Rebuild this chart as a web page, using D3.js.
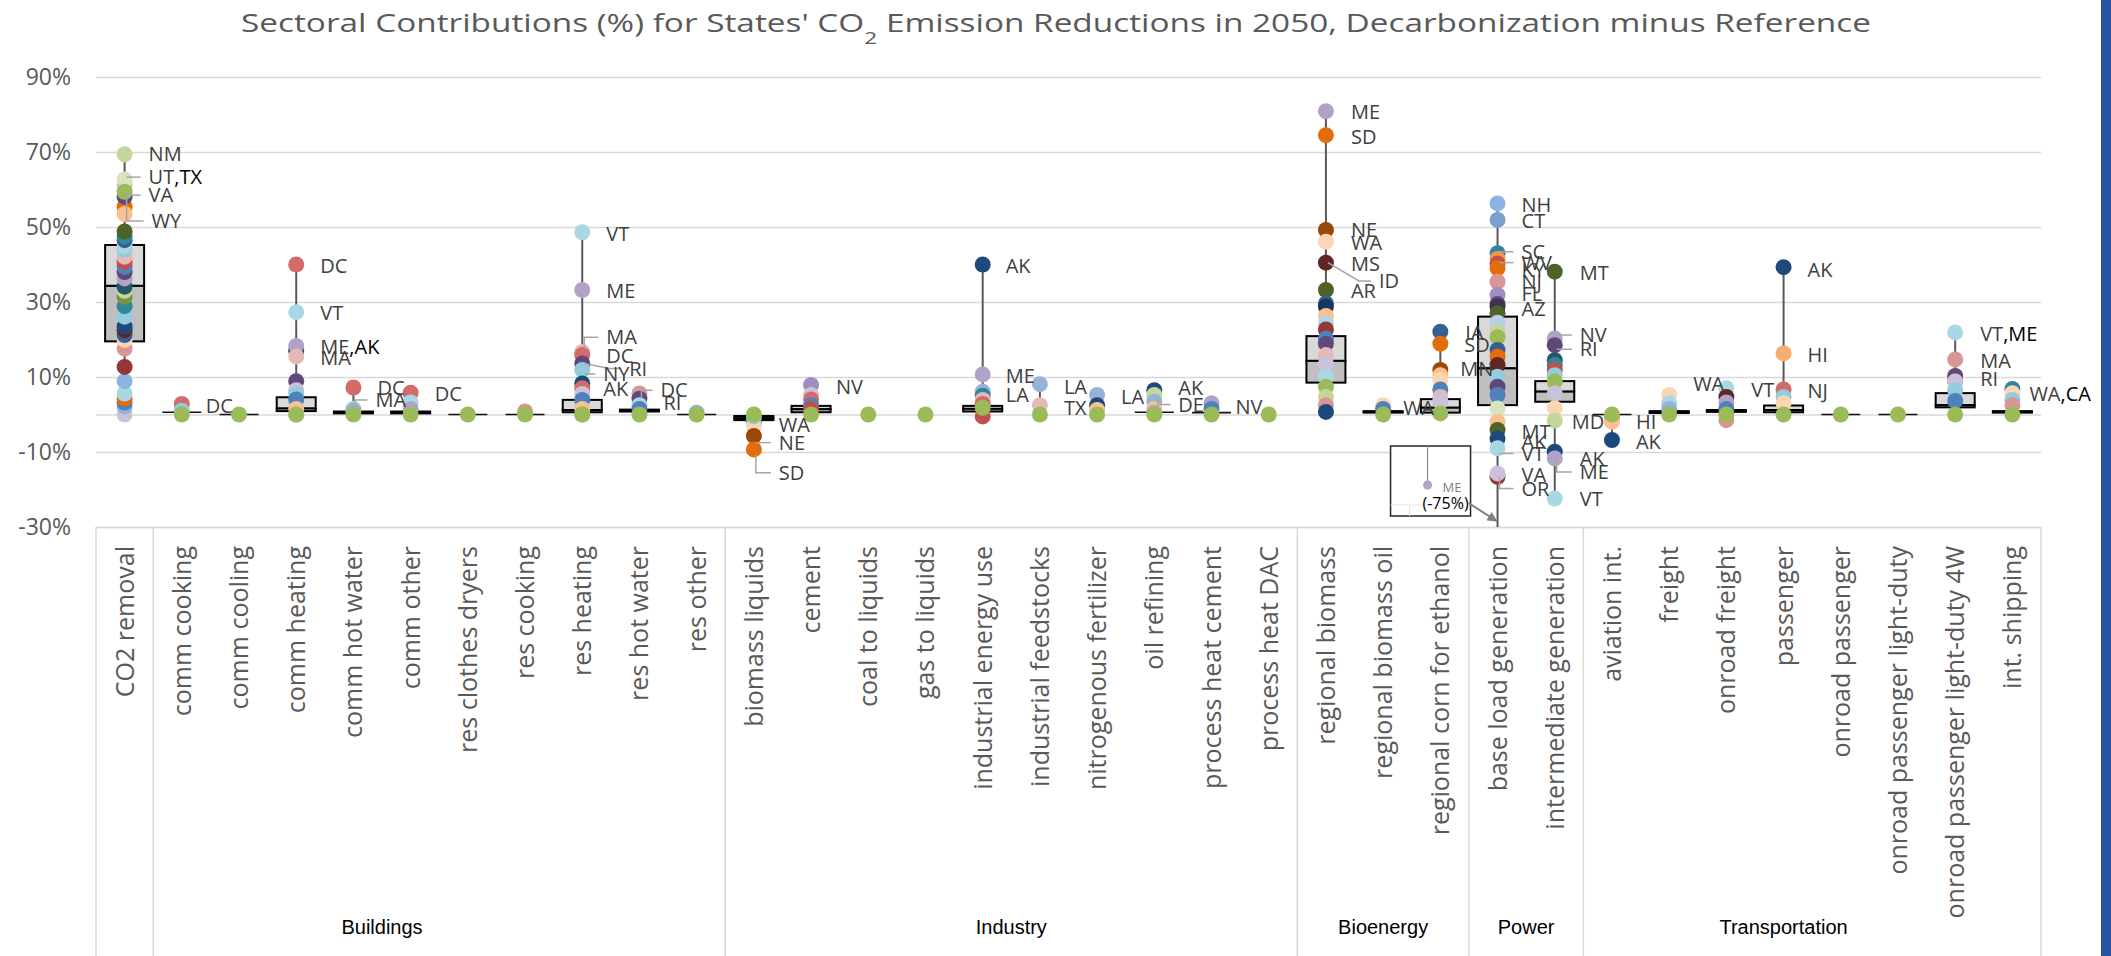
<!DOCTYPE html>
<html><head><meta charset="utf-8">
<script src="https://cdn.jsdelivr.net/npm/d3@7/dist/d3.min.js"></script>
<style>body{margin:0;background:#fff;overflow:hidden}svg{display:block}</style>
</head><body>
<svg id="chart" width="2111" height="956"></svg>
<script>
// ---------------- DATA ----------------
const categories = ["CO2 removal","comm cooking","comm cooling","comm heating","comm hot water","comm other","res clothes dryers","res cooking","res heating","res hot water","res other","biomass liquids","cement","coal to liquids","gas to liquids","industrial energy use","industrial feedstocks","nitrogenous fertilizer","oil refining","process heat cement","process heat DAC","regional biomass","regional biomass oil","regional corn for ethanol","base load generation","intermediate generation","aviation int.","freight","onroad freight","passenger","onroad passenger","onroad passenger light-duty","onroad passenger light-duty 4W","int. shipping"];

const groupNames = ["", "Buildings", "Industry", "Bioenergy", "Power", "Transportation"];
const groupStart = [0, 1, 11, 21, 24, 26];
const groupEnd = [1, 11, 21, 24, 26, 34];
const groupLabelAt = [0.5, 5.0, 16.0, 22.5, 25.0, 29.5];

const yTicks = [90, 70, 50, 30, 10, -10, -30];

// box statistics (%), null = no box
const boxQ1     = [19.5,0.6,0,0.9,0.3,0.3,0,0,0.6,0.8,0,-1.5,0.6,null,null,0.8,null,null,0.6,0.5,null,8.5,0.5,0.5,2.5,3.4,0,0.4,0.7,0.6,0,0,1.9,0.5];
const boxMedian = [34.3,0.6,0,1.6,0.5,0.5,0,0,1.2,1.0,0,-1.0,1.4,null,null,1.5,null,null,0.6,0.5,null,14.3,0.7,1.8,12.3,6.1,0,0.6,0.9,1.2,0,0,2.5,0.7];
const boxQ3     = [45.2,0.6,0,4.6,0.8,0.8,0,0,3.9,1.3,0,-0.4,2.3,null,null,2.3,null,null,0.6,0.5,null,20.9,0.9,4.1,26.1,8.9,0,0.9,1.2,2.4,0,0,5.7,0.9];

// state point colours
const palette = {
  lav:"#b3a2c7", lav2:"#ccc1da", purp:"#8064a2", mpur:"#a08ec2", dpur:"#5f497a", dpur2:"#403152",
  navy:"#1f497d", dnavy:"#17375e", blue:"#4f81bd", blue2:"#376092", lblue:"#95b3d7", sky:"#8eb4e3", sky2:"#7ba0cd", pale:"#b9cde5",
  teal:"#31859c", dteal:"#215968", lteal:"#93cddd", lteal2:"#a9d7e4",
  red:"#c0504d", salm:"#d26b69", dred:"#953735", mar:"#632523", pink:"#d99694", pink2:"#e6b9b8",
  org:"#e46c0a", lorg:"#f79646", horg:"#f9ad6e", peach:"#fac090", peach2:"#fcd5b5", brown:"#984807",
  grn:"#9bbb59", dgrn:"#77933c", olive:"#4f6228", lgrn:"#c3d69b", lgrn2:"#d7e4bd"
};

// per category: state values (%) and their colours
const pointValues = [
  [0,2.1,3.2,4.3,5.6,8.9,12.7,17.6,19.9,21.2,22.5,23.4,26.1,28.9,31.4,33.0,34.1,36.3,38.0,39.4,40.7,42.1,43.9,45.0,46.5,47.5,48.8,55.4,53.5,58.1,61.2,62.7,59.4,69.4],
  [2.8,1.0,0],
  [0],
  [40,27.3,17.0,18.3,15.5,8.9,6.5,5.5,4.0,1.5,0,0],
  [7.2,1.5,1.0,0],
  [5.8,3.2,1.5,0],
  [0],
  [0.8,0],
  [48.6,33.2,16.7,15.9,13.6,11.9,8.3,7.0,5.5,3.9,1.5,0,0],
  [5.6,4.2,2.5,1.5,0],
  [0.5,0],
  [-1.9,-3.0,-5.7,-9.3,-0.5,0],
  [7.9,5.2,4.0,2.5,1.5,0],
  [0],
  [0],
  [40.0,10.7,6.1,5.0,3.9,2.8,-0.5,1.8],
  [8.1,2.5,0],
  [5.2,2.5,1.2,0],
  [6.5,5.2,3.4,1.5,0.5,0],
  [3.0,1.5,0],
  [0],
  [80.9,74.5,49.2,46.1,40.5,33.2,29.6,28.8,26.3,24.3,22.7,20.3,18.9,15.9,13.6,10.1,7.4,4.7,2.5,0.7],
  [2.5,1.5,0],
  [22.1,18.9,11.9,10.5,9.2,6.7,4.7,3.4,0.3],
  [56.3,51.9,43.0,41.5,40.3,39.0,35.4,31.9,29.5,28.8,27.0,24.5,22.0,20.6,17.2,15.4,13.2,10.1,7.4,5.2,1.6,-1.9,-4.1,-6.4,-9.0,-16.6,-15.7,-75],
  [38.1,20.3,18.5,14.5,13.2,11.9,10.5,8.8,5.7,1.7,-1.6,-9.9,-11.7,-22.4],
  [-1.0,-1.9,-6.8,0],
  [5.2,3.0,1.5,0],
  [7.0,4.7,3.2,1.5,-1.5,0],
  [39.3,16.3,6.7,4.7,3.0,0],
  [0],
  [0],
  [21.9,14.7,10.3,8.9,8.8,6.5,3.6,0],
  [6.8,5.7,3.9,2.5,0]
];
const pointColors = [
  ["lav2","lblue","blue","org","lteal2","sky","dred","pink","peach2","blue2","mar","navy","lteal","teal","dgrn","lgrn","dteal","lav","dpur","blue","red","pink2","lteal","lteal2","blue2","teal","olive","org","peach","dpur","lav2","lgrn2","grn","lgrn"],
  ["salm","lteal","grn"],
  ["grn"],
  ["salm","lteal2","navy","lav","pink2","dpur","lav2","lteal","blue","peach","lav2","grn"],
  ["salm","lteal2","lblue","grn"],
  ["salm","lteal2","lav","grn"],
  ["grn"],
  ["pink","grn"],
  ["lteal2","lav","pink2","salm","dpur","lteal","navy","salm","lav2","blue","peach","pink","grn"],
  ["pink","dpur","lteal2","blue","grn"],
  ["lblue","grn"],
  ["blue","peach2","brown","org","lteal","grn"],
  ["mpur","lav2","salm","blue","red","grn"],
  ["grn"],
  ["grn"],
  ["navy","lav","lblue","teal","pink2","salm","red","grn"],
  ["lblue","pink2","grn"],
  ["lblue","navy","peach","grn"],
  ["navy","lgrn","lblue","peach","lav","grn"],
  ["lav","blue","grn"],
  ["grn"],
  ["lav","org","brown","peach2","mar","olive","blue2","dnavy","peach","lteal2","dred","blue","dpur","pink2","lav2","lteal2","grn","lgrn","pink","navy"],
  ["peach2","blue","grn"],
  ["blue2","org","brown","peach","peach2","blue","pink2","lav2","grn"],
  ["sky","sky2","teal","lorg","red","org","pink","mpur","dpur","dpur2","olive","pale","lgrn","grn","blue2","org","mar","lteal","dpur","blue","lgrn2","peach","olive","navy","lteal2","dred","lav2","lav"],
  ["olive","lav","dpur","dteal","teal","red","lteal","grn","lav2","peach2","lgrn","navy","lav","lteal2"],
  ["pink","peach","navy","grn"],
  ["peach2","lteal2","lblue","grn"],
  ["lteal2","mar","lav","blue","pink","grn"],
  ["navy","horg","salm","lteal","peach2","grn"],
  ["grn"],
  ["grn"],
  ["lteal2","pink","dpur","red","lav2","lteal","blue","grn"],
  ["teal","peach2","lteal","pink","grn"]
];

// data labels: [category index, state, extra state (black), label value %, point value % for leader, leader kind]
const pointLabels = [
 [0,"NM","",69.4,null,""],[0,"UT",",TX",63.3,62.7,"h"],[0,"VA","",58.5,59.4,"h"],[0,"WY","",51.6,59.4,"elbow"],
 [1,"DC","",2.4,null,""],
 [3,"DC","",39.7,null,""],[3,"VT","",27.1,null,""],[3,"ME",",AK",18.1,null,""],[3,"MA","",15.0,null,""],
 [4,"DC","",7.1,null,""],[4,"MA","",3.9,1.3,"elbow"],
 [5,"DC","",5.6,null,""],
 [8,"VT","",48.3,null,""],[8,"ME","",33.0,null,""],[8,"MA","",20.6,17.8,"elbow"],[8,"DC","",15.7,null,""],[8,"RI","",12.3,13.6,"diag"],[8,"NY","",10.8,11.9,"h"],[8,"AK","",6.9,null,""],
 [9,"DC","",6.5,4.5,"elbow"],[9,"RI","",3.2,null,""],
 [11,"WA","",-2.8,null,""],[11,"NE","",-7.5,-5.7,"h"],[11,"SD","",-15.5,-10.8,"elbow"],
 [12,"NV","",7.4,null,""],
 [15,"AK","",39.6,null,""],[15,"ME","",10.3,null,""],[15,"LA","",5.2,null,""],
 [16,"LA","",7.4,null,""],[16,"TX","",1.9,null,""],
 [17,"LA","",4.7,null,""],
 [18,"AK","",7.0,null,""],[18,"DE","",2.7,4.5,"diag"],
 [19,"NV","",2.1,null,""],
 [21,"ME","",80.8,null,""],[21,"SD","",74.1,null,""],[21,"NE","",49.2,null,""],[21,"WA","",45.8,null,""],[21,"MS","",40.3,null,""],[21,"ID","",35.6,40.5,"diag"],[21,"AR","",33.0,null,""],
 [22,"WA","",1.8,null,""],
 [23,"IA","",21.9,null,""],[23,"SD","",18.5,null,""],[23,"MN","",12.3,null,""],
 [24,"NH","",55.9,null,""],[24,"CT","",51.7,null,""],[24,"SC","",43.4,43.0,"h"],[24,"WV","",40.5,40.3,"h"],[24,"KY","",38.5,null,""],[24,"NJ","",35.3,null,""],[24,"FL","",32.3,null,""],[24,"AZ","",28.3,null,""],
 [24,"MT","",-4.6,null,""],[24,"AK","",-7.3,null,""],[24,"VT","",-10.4,-9.0,"h"],[24,"VA","",-16.1,null,""],[24,"OR","",-19.7,-16.6,"elbow"],
 [25,"MT","",37.8,null,""],[25,"NV","",21.2,20.3,"h"],[25,"RI","",17.4,18.5,"h"],[25,"MD","",-1.9,null,""],[25,"AK","",-11.7,null,""],[25,"ME","",-15.3,-11.7,"elbow"],[25,"VT","",-22.6,null,""],
 [26,"HI","",-1.9,null,""],[26,"AK","",-7.2,null,""],
 [27,"WA","",8.1,null,""],
 [28,"VT","",6.5,null,""],
 [29,"AK","",38.7,null,""],[29,"HI","",15.9,null,""],[29,"NJ","",6.3,null,""],
 [32,"VT",",ME",21.5,null,""],[32,"MA","",14.3,null,""],[32,"RI","",9.4,null,""],
 [33,"WA",",CA",5.5,null,""]
];
// off-chart value shown in the callout
const offChart = {category: 24, state: "ME", value: -75};

// ---------------- LAYOUT (not data) ----------------
const labelDx = [24,24,24,27, 24, 24,24,24,24, 24,22, 24, 24,24,24,24,47,21,21, 21,24, 25,25,25, 25, 23,23,23, 24,24, 24, 24,24, 24,
 25,25,25,25,25,53,25, 20, 25,24,20, 24,24,24,24,24,24,24,24, 24,24,24,24,24, 25,25,25,17,25,25,25, 24,24, 24, 25, 24,24,24, 25,25,25, 17];

const W = 2111, H = 956;
const M = {left: 96, right: 2041, top: 77, bottom: 527};
const svg = d3.select("#chart");
const FONT = "'Open Sans', 'DejaVu Sans', sans-serif";

const x = d3.scaleBand().domain(categories).range([M.left, M.right]).padding(0);
const y = d3.scaleLinear().domain([-30, 90]).range([M.bottom, M.top]);
const cx = i => x(categories[i]) + x.bandwidth() / 2;

// right-edge blue strip
svg.append("rect").attr("x", 2101).attr("y", 0).attr("width", 10).attr("height", H).attr("fill", "#2a52a0");

// title (wide glyphs, as in the reference)
const titleScale = 1.3;
const title = svg.append("text").attr("transform", `translate(241,23.5) scale(${titleScale},1)`)
  .attr("x", 0).attr("y", 0).attr("dy", "0.35em")
  .attr("text-anchor", "start").attr("fill", "#595959")
  .attr("textLength", 1630 / titleScale).attr("lengthAdjust", "spacingAndGlyphs")
  .style("font-family", FONT).style("font-size", "25px");
title.append("tspan").text("Sectoral Contributions (%) for States' CO");
title.append("tspan").attr("baseline-shift", "sub").style("font-size", "17px").text("2");
title.append("tspan").text(" Emission Reductions in 2050, Decarbonization minus Reference");

// gridlines
const grid = svg.append("g").attr("transform", `translate(${M.left},0)`)
  .call(d3.axisRight(y).tickValues([...yTicks, 0]).tickSize(M.right - M.left).tickFormat(""));
grid.select(".domain").remove();
grid.selectAll("line").attr("stroke", "#d9d9d9").attr("stroke-width", 1.5);

// y axis labels
const yAx = svg.append("g").attr("transform", `translate(${M.left},0)`)
  .call(d3.axisLeft(y).tickValues(yTicks).tickSize(0).tickPadding(25).tickFormat(d => d + "%"));
yAx.select(".domain").remove();
yAx.selectAll("text").attr("fill", "#595959").style("font-family", FONT).style("font-size", "23px");

// category axis (table)
const xAx = svg.append("g").attr("transform", `translate(0,${M.bottom})`)
  .call(d3.axisBottom(x).tickSize(0).tickSizeOuter(0));
xAx.select(".domain").attr("stroke", "#d9d9d9").attr("stroke-width", 1.5);
xAx.selectAll("text")
  .attr("transform", "rotate(-90)").attr("x", -19).attr("y", 0).attr("dy", "0.36em")
  .attr("text-anchor", "end").attr("fill", "#595959")
  .style("font-family", FONT).style("font-size", "25px");

// group separators and labels
const step = x.step();
const bounds = Array.from(new Set([...groupStart, ...groupEnd]));
svg.append("g").selectAll("line").data(bounds).join("line")
  .attr("x1", d => M.left + d * step).attr("x2", d => M.left + d * step)
  .attr("y1", M.bottom).attr("y2", H)
  .attr("stroke", "#d9d9d9").attr("stroke-width", 1.5);
svg.append("g").selectAll("text").data(groupNames).join("text")
  .attr("x", (d, i) => M.left + groupLabelAt[i] * step).attr("y", 927).attr("dy", "0.35em")
  .attr("text-anchor", "middle").attr("fill", "#000")
  .style("font-family", "'Liberation Sans', Arial, sans-serif").style("font-size", "20px")
  .text(d => d);

// clip for plot contents
svg.append("clipPath").attr("id", "plotclip").append("rect")
  .attr("x", M.left).attr("y", 0).attr("width", M.right - M.left).attr("height", M.bottom - 0);
const plot = svg.append("g").attr("clip-path", "url(#plotclip)");

// whiskers (min to max)
plot.append("g").selectAll("line").data(categories).join("line")
  .attr("x1", (d, i) => cx(i)).attr("x2", (d, i) => cx(i))
  .attr("y1", (d, i) => y(d3.max(pointValues[i]))).attr("y2", (d, i) => y(d3.min(pointValues[i])))
  .attr("stroke", "#595959").attr("stroke-width", 2);

// boxes
const bw = 39;
categories.forEach((c, i) => {
  if (boxQ1[i] === null) return;
  const bx = cx(i) - bw / 2;
  if (boxQ3[i] - boxQ1[i] < 0.05) {
    plot.append("line").attr("x1", bx).attr("x2", bx + bw)
      .attr("y1", y(boxMedian[i])).attr("y2", y(boxMedian[i]))
      .attr("stroke", "#111").attr("stroke-width", 1.6);
    return;
  }
  plot.append("rect").attr("x", bx).attr("width", bw)
    .attr("y", y(boxQ3[i])).attr("height", Math.max(0.1, y(boxMedian[i]) - y(boxQ3[i])))
    .attr("fill", "#d9d9d9").attr("stroke", "#000").attr("stroke-width", 2);
  plot.append("rect").attr("x", bx).attr("width", bw)
    .attr("y", y(boxMedian[i])).attr("height", Math.max(0.1, y(boxQ1[i]) - y(boxMedian[i])))
    .attr("fill", "#bfbfbf").attr("stroke", "#000").attr("stroke-width", 2);
});

// points
const pts = [];
pointValues.forEach((arr, i) => arr.forEach((v, j) => pts.push({i, v, c: palette[pointColors[i][j]]})));
plot.append("g").selectAll("circle").data(pts).join("circle")
  .attr("cx", d => cx(d.i)).attr("cy", d => y(d.v)).attr("r", 8)
  .attr("fill", d => d.c);

// leader lines
const leaders = svg.append("g").attr("fill", "none").attr("stroke", "#a6a6a6").attr("stroke-width", 1.5);
pointLabels.forEach((L, k) => {
  const [ci, , , lv, pv, kind] = L;
  if (!kind) return;
  const px = cx(ci) + 2, lx = cx(ci) + labelDx[k], ly = y(lv), py = y(pv);
  let dpath;
  if (kind === "h") dpath = `M${px},${ly}H${lx - 8}`;
  else if (kind === "elbow") dpath = `M${px},${py}V${ly}H${lx - 8}`;
  else dpath = `M${px},${py}L${lx - 20},${ly}H${lx - 8}`;
  leaders.append("path").attr("d", dpath);
});

// labels
const lab = svg.append("g").style("font-family", FONT).style("font-size", "20px");
pointLabels.forEach((L, k) => {
  const [ci, s1, s2, lv] = L;
  const t = lab.append("text").attr("x", cx(ci) + labelDx[k]).attr("y", y(lv)).attr("dy", "0.36em");
  t.append("tspan").attr("fill", "#404040").text(s1);
  if (s2) t.append("tspan").attr("fill", "#000").text(s2);
});

// callout for the off-chart value
const oc = cx(offChart.category);
const co = svg.append("g");
co.append("rect").attr("x", oc - 107).attr("y", M.bottom - 81).attr("width", 80).attr("height", 70)
  .attr("fill", "#fff").attr("stroke", "#262626").attr("stroke-width", 1.5);
co.append("line").attr("x1", oc - 107).attr("x2", oc - 63).attr("y1", M.bottom - 22).attr("y2", M.bottom - 22)
  .attr("stroke", "#e6e6e6").attr("stroke-width", 1.2);
co.append("line").attr("x1", oc - 88).attr("x2", oc - 88).attr("y1", M.bottom - 22).attr("y2", M.bottom - 11)
  .attr("stroke", "#e6e6e6").attr("stroke-width", 1.2);
co.append("line").attr("x1", oc - 70).attr("x2", oc - 70).attr("y1", M.bottom - 81).attr("y2", M.bottom - 42)
  .attr("stroke", "#8c8c8c").attr("stroke-width", 1.2);
co.append("circle").attr("cx", oc - 70).attr("cy", M.bottom - 42).attr("r", 4.5).attr("fill", palette.lav);
co.append("text").attr("x", oc - 55).attr("y", M.bottom - 40).attr("dy", "0.35em")
  .attr("fill", "#7f7f7f").style("font-family", FONT).style("font-size", "13px").text(offChart.state);
co.append("text").attr("x", oc - 52).attr("y", M.bottom - 24).attr("dy", "0.35em").attr("text-anchor", "middle")
  .attr("fill", "#000").style("font-family", FONT).style("font-size", "16px").text(`(${offChart.value}%)`);
const defs = svg.append("defs");
defs.append("marker").attr("id", "arr").attr("viewBox", "0 0 10 10").attr("refX", 9).attr("refY", 5)
  .attr("markerWidth", 5).attr("markerHeight", 5).attr("orient", "auto")
  .append("path").attr("d", "M0,0L10,5L0,10z").attr("fill", "#808080");
co.append("line").attr("x1", oc - 29).attr("y1", M.bottom - 24).attr("x2", oc - 1).attr("y2", M.bottom - 6)
  .attr("stroke", "#808080").attr("stroke-width", 2).attr("marker-end", "url(#arr)");
</script>
</body></html>
